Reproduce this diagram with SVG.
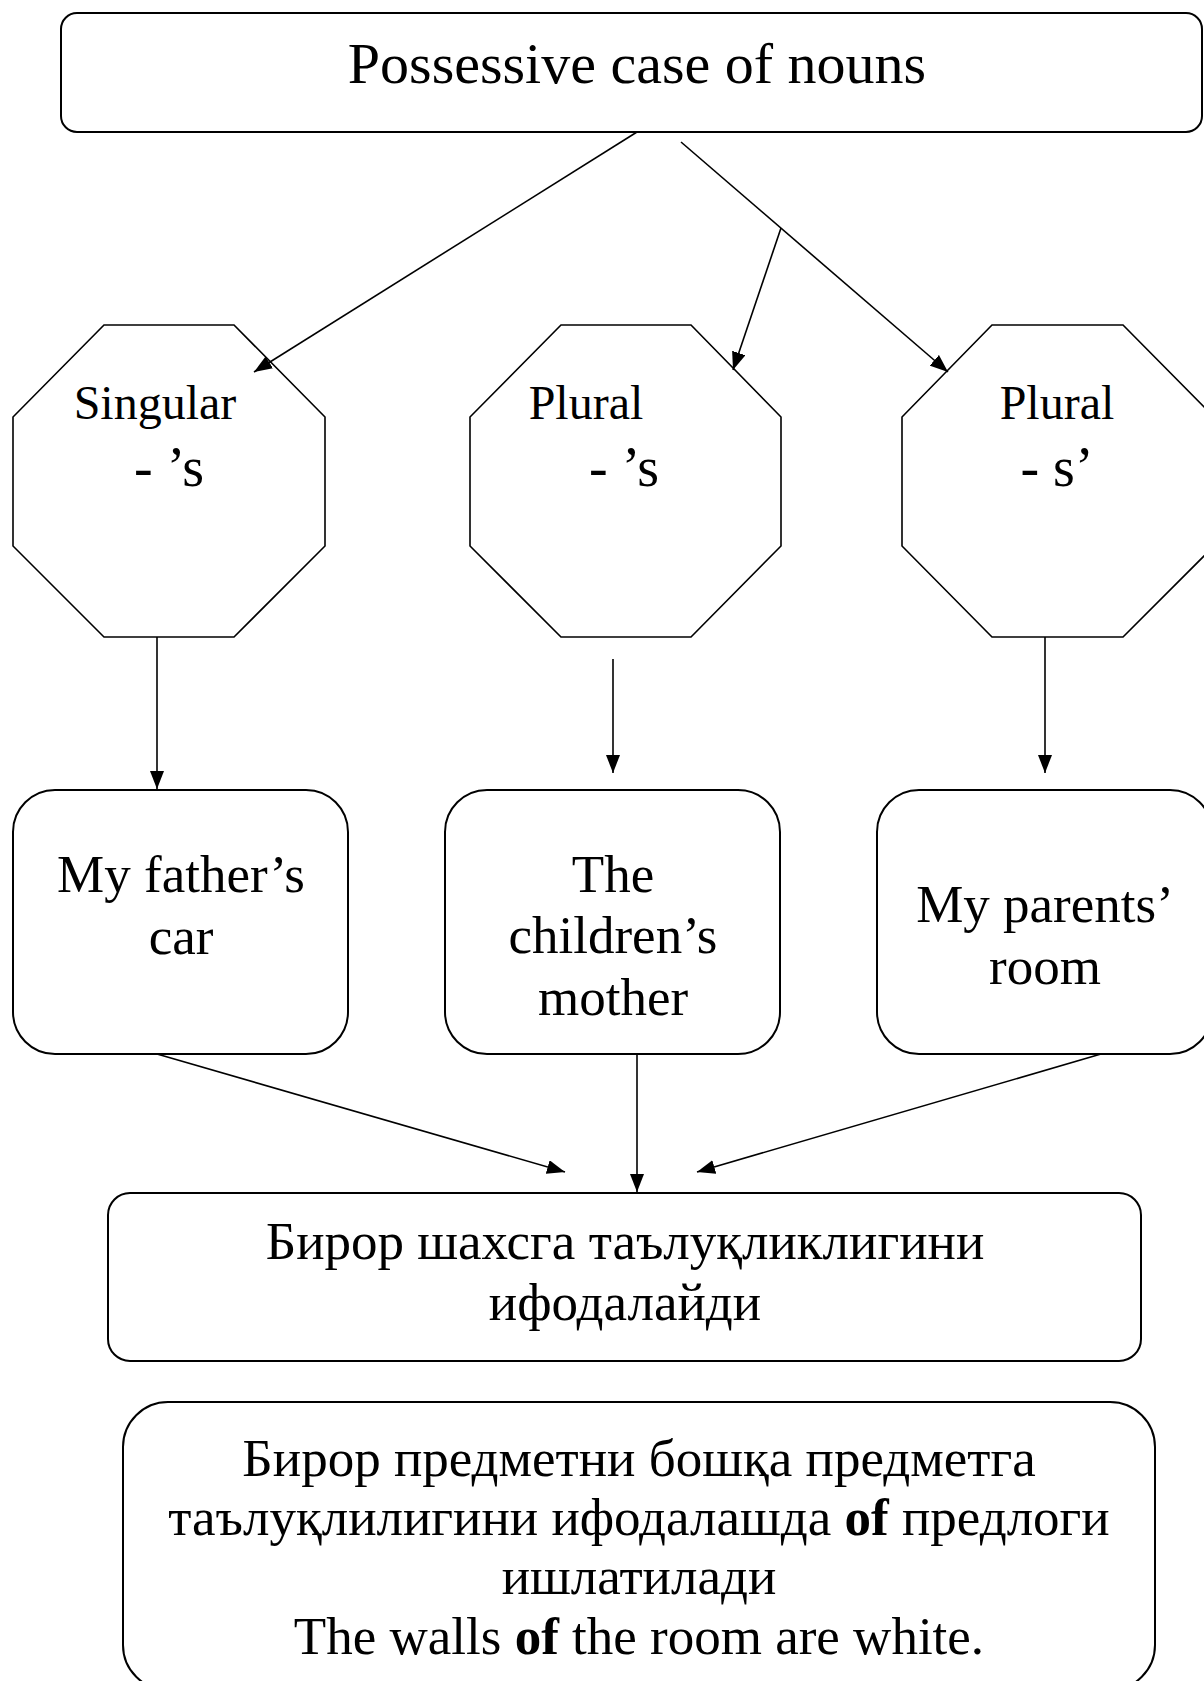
<svg xmlns="http://www.w3.org/2000/svg" width="1204" height="1681" viewBox="0 0 1204 1681">
<style>
  .box { fill: #fff; stroke: #000; stroke-width: 2; }
  .oct { fill: #fff; stroke: #000; stroke-width: 1.6; }
  .conn line { stroke: #000; stroke-width: 1.6; fill: none; }
  text { font-family: "Liberation Serif", "Times New Roman", serif; fill: #000; text-anchor: middle; }
  .t58 { font-size: 58px; }
  .t48 { font-size: 48px; }
  .t56 { font-size: 56px; }
  .t53 { font-size: 53px; }
  .b { font-weight: bold; }
</style>
<defs>
  <marker id="arr" markerUnits="userSpaceOnUse" markerWidth="20" markerHeight="14" refX="18" refY="7" orient="auto">
    <path d="M0,0 L18,7 L0,14 Z" fill="#000"/>
  </marker>
</defs>
<rect width="1204" height="1681" fill="#fff"/>

<g id="node-title">
  <rect class="box" x="61" y="13" width="1141" height="119" rx="16"/>
  <text class="t58" x="637" y="83">Possessive case of nouns</text>
</g>

<g id="node-singular">
  <polygon class="oct" points="104,325 234,325 325,417 325,546 234,637 104,637 13,546 13,417"/>
  <text class="t48" x="155" y="419">Singular</text>
  <text class="t56" x="169" y="486">- ’s</text>
</g>

<g id="node-plural1">
  <polygon class="oct" points="561,325 691,325 781,417 781,546 691,637 561,637 470,546 470,417"/>
  <text class="t48" x="586" y="419">Plural</text>
  <text class="t56" x="624" y="486">- ’s</text>
</g>

<g id="node-plural2">
  <polygon class="oct" points="992,325 1123,325 1214,417 1214,546 1123,637 992,637 902,546 902,417"/>
  <text class="t48" x="1057" y="419">Plural</text>
  <text class="t56" x="1057" y="486">- s’</text>
</g>

<g id="node-ex1">
  <rect class="box" x="13" y="790" width="335" height="264" rx="42"/>
  <text class="t53" x="181" y="892">My father’s</text>
  <text class="t53" x="181" y="954">car</text>
</g>

<g id="node-ex2">
  <rect class="box" x="445" y="790" width="335" height="264" rx="42"/>
  <text class="t53" x="613" y="892">The</text>
  <text class="t53" x="613" y="953">children’s</text>
  <text class="t53" x="613" y="1015">mother</text>
</g>

<g id="node-ex3">
  <rect class="box" x="877" y="790" width="335" height="264" rx="42"/>
  <text class="t53" x="1045" y="922">My parents’</text>
  <text class="t53" x="1045" y="984">room</text>
</g>

<g id="node-meaning">
  <rect class="box" x="108" y="1193" width="1033" height="168" rx="22"/>
  <text class="t53" x="625" y="1259">Бирор шахсга таълуқликлигини</text>
  <text class="t53" x="625" y="1320">ифодалайди</text>
</g>

<g id="node-of">
  <rect class="box" x="123" y="1402" width="1032" height="288" rx="45"/>
  <text class="t53" x="639" y="1476">Бирор предметни бошқа предметга</text>
  <text class="t53" x="639" y="1535">таълуқлилигини ифодалашда <tspan class="b">of</tspan> предлоги</text>
  <text class="t53" x="639" y="1594">ишлатилади</text>
  <text class="t53" x="639" y="1654">The walls <tspan class="b">of</tspan> the room are white.</text>
</g>

<g id="connectors" class="conn">
  <line x1="637" y1="132" x2="254" y2="372" marker-end="url(#arr)"/>
  <line x1="681" y1="142" x2="948" y2="372" marker-end="url(#arr)"/>
  <line x1="781" y1="228" x2="733" y2="370" marker-end="url(#arr)"/>
  <line x1="157" y1="637" x2="157" y2="789" marker-end="url(#arr)"/>
  <line x1="613" y1="659" x2="613" y2="773" marker-end="url(#arr)"/>
  <line x1="1045" y1="637" x2="1045" y2="773" marker-end="url(#arr)"/>
  <line x1="157" y1="1054" x2="565" y2="1172" marker-end="url(#arr)"/>
  <line x1="637" y1="1054" x2="637" y2="1192" marker-end="url(#arr)"/>
  <line x1="1101" y1="1054" x2="697" y2="1172" marker-end="url(#arr)"/>
</g>
</svg>
